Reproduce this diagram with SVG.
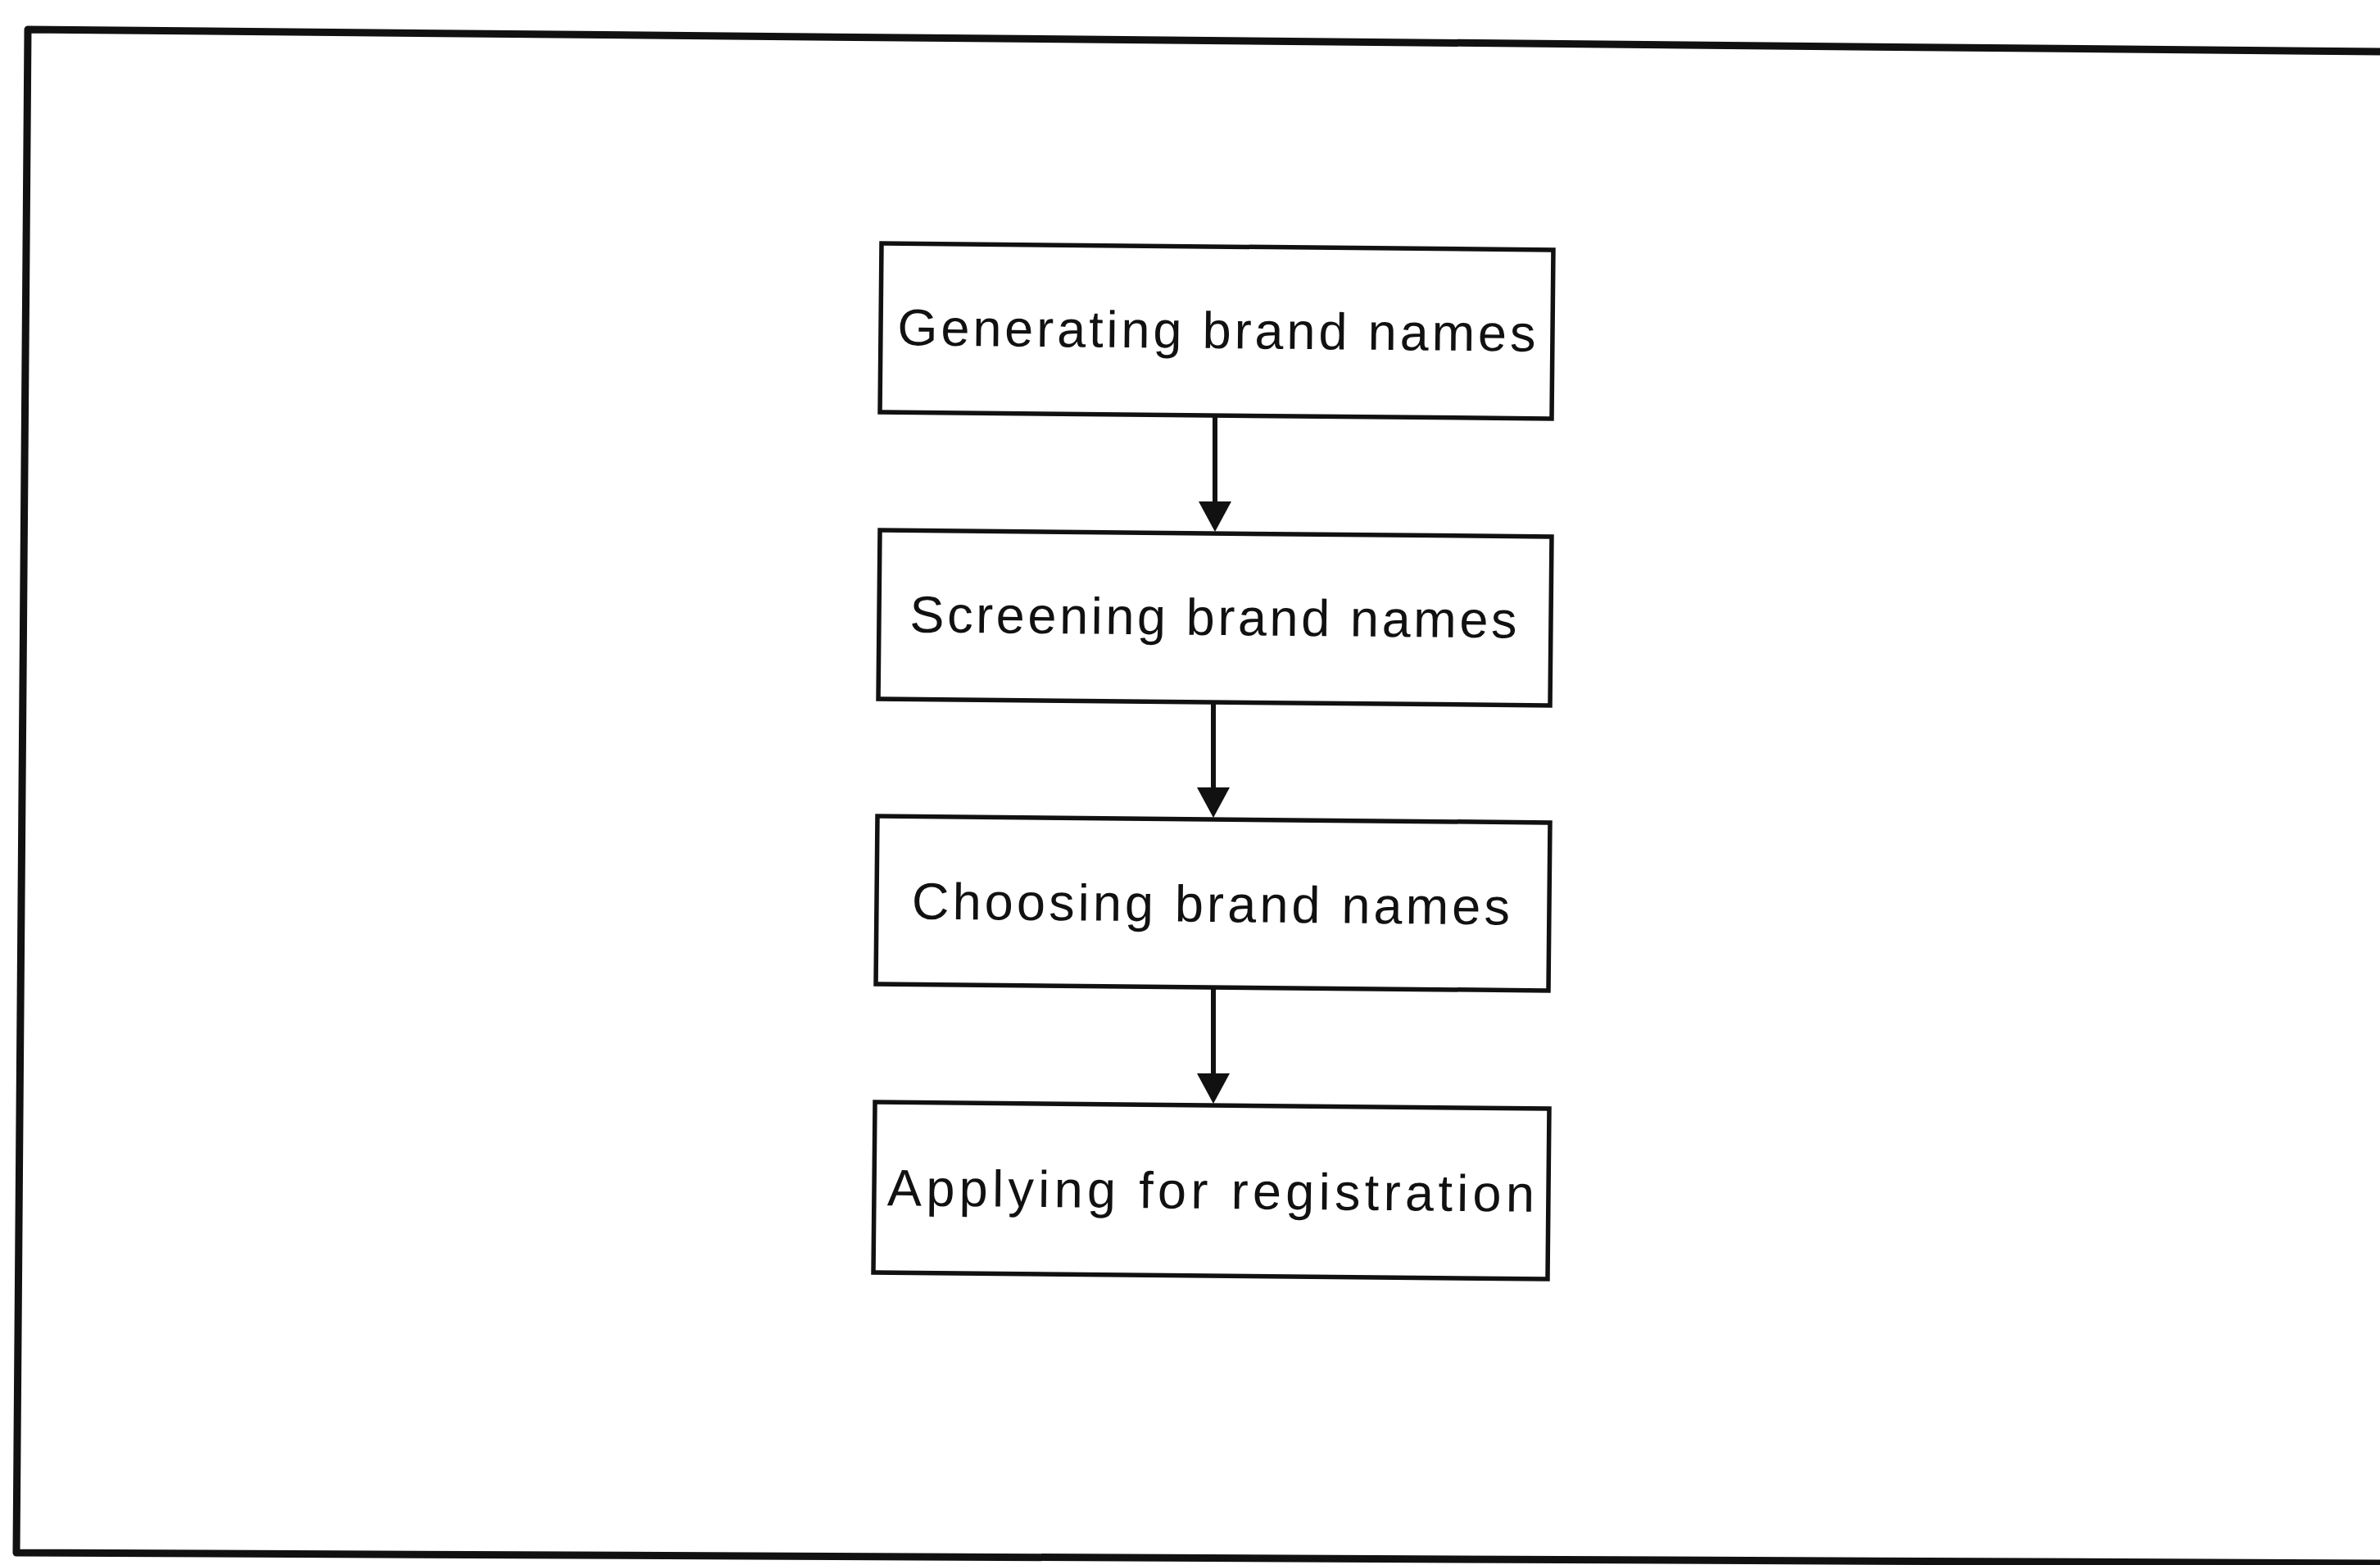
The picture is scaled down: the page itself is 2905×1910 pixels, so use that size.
<svg xmlns="http://www.w3.org/2000/svg" width="2905" height="1910" viewBox="0 0 2905 1910">
<defs>
<style>
.frame{fill:none;stroke:#111;stroke-width:9;stroke-linejoin:round}
.box{fill:#fff;stroke:#111;stroke-width:5.5}
.lbl{font-family:"Liberation Sans",Arial,sans-serif;font-size:63px;fill:#111;text-anchor:middle}
.conn{stroke:#111;stroke-width:6;fill:none}
</style>
<marker id="ah" viewBox="0 -22 42 44" refX="0" refY="0" markerWidth="42" markerHeight="44" markerUnits="userSpaceOnUse" orient="auto">
<path d="M0,-20 L37,0 L0,20 Z" fill="#111"/>
</marker>
</defs>
<rect x="0" y="0" width="2905" height="1910" fill="#fff"/>
<path class="frame" d="M2912,63 L34,36 L20,1895 L2912,1908"/>
<g id="node1" transform="rotate(0.55 1485 404)">
<rect class="box" x="1075" y="301" width="820" height="206"/>
<text class="lbl" x="1485" y="425" textLength="779" lengthAdjust="spacing">Generating brand names</text>
</g>
<g id="node2" transform="rotate(0.55 1483 754)">
<rect class="box" x="1073" y="651" width="820" height="206"/>
<text class="lbl" x="1481" y="775" textLength="741" lengthAdjust="spacing">Screening brand names</text>
</g>
<g id="node3" transform="rotate(0.55 1480 1102)">
<rect class="box" x="1070" y="1000" width="821" height="205"/>
<text class="lbl" x="1478" y="1125" textLength="730" lengthAdjust="spacing">Choosing brand names</text>
</g>
<g id="node4" transform="rotate(0.55 1478 1453)">
<rect class="box" x="1067" y="1349" width="823" height="208"/>
<text class="lbl" x="1478" y="1475" textLength="790" lengthAdjust="spacing">Applying for registration</text>
</g>
<g id="connectors">
<line class="conn" x1="1483" y1="507" x2="1483" y2="612" marker-end="url(#ah)"/>
<line class="conn" x1="1481" y1="858" x2="1481" y2="961" marker-end="url(#ah)"/>
<line class="conn" x1="1481" y1="1205" x2="1481" y2="1310" marker-end="url(#ah)"/>
</g>
</svg>
